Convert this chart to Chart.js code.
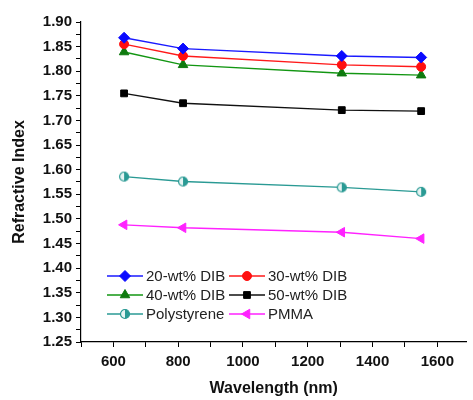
<!DOCTYPE html>
<html><head><meta charset="utf-8">
<script src="https://cdn.jsdelivr.net/npm/chart.js@4/dist/chart.umd.min.js"></script>
<style>html,body{margin:0;padding:0;background:#fff}#wrap{width:473px;height:400px;position:relative}</style>
</head><body><div id="wrap"><canvas id="c"></canvas></div>
<script>
const wavelengths = [633, 815, 1305, 1550];
const dib20 = [1.868, 1.846, 1.831, 1.828];
const dib30 = [1.855, 1.831, 1.813, 1.809];
const dib40 = [1.839, 1.813, 1.796, 1.792];
const dib50 = [1.755, 1.735, 1.721, 1.719];
const polystyrene = [1.586, 1.576, 1.564, 1.555];
const pmma = [1.488, 1.482, 1.473, 1.460];
const seriesNames = ['20-wt% DIB','30-wt% DIB','40-wt% DIB','50-wt% DIB','Polystyrene','PMMA'];
const xTickLabels = [600, 800, 1000, 1200, 1400, 1600];
const yTickLabels = [1.25, 1.30, 1.35, 1.40, 1.45, 1.50, 1.55, 1.60, 1.65, 1.70, 1.75, 1.80, 1.85, 1.90];

function halfCircle(r, color){
  const c = document.createElement('canvas');
  const s = Math.ceil(r*2+3); c.width = s; c.height = s;
  const g = c.getContext('2d'); const cx = s/2, cy = s/2;
  g.beginPath(); g.arc(cx,cy,r,0,Math.PI*2); g.fillStyle='#e6f4f3'; g.fill();
  g.beginPath(); g.arc(cx,cy,r,-Math.PI/2,Math.PI/2); g.closePath(); g.fillStyle=color; g.fill();
  g.beginPath(); g.arc(cx,cy,r,0,Math.PI*2); g.strokeStyle=color; g.lineWidth=1.2; g.stroke();
  return c;
}
const teal = '#2a9a94';
const psMarker = halfCircle(4.5, teal);

function mk(data){ return wavelengths.map((x,i)=>({x:x,y:data[i]})); }
const datasets = [
  {label:seriesNames[0], data:mk(dib20), borderColor:'#1a1aff', backgroundColor:'#0a0aff', pointStyle:'rectRot', pointRadius:5.5},
  {label:seriesNames[1], data:mk(dib30), borderColor:'#ff1a1a', backgroundColor:'#ff1010', pointStyle:'circle', pointRadius:4.5},
  {label:seriesNames[2], data:mk(dib40), borderColor:'#129612', backgroundColor:'#0e7a0e', pointStyle:'triangle', pointRadius:5.5},
  {label:seriesNames[3], data:mk(dib50), borderColor:'#111111', backgroundColor:'#000000', pointStyle:'rect', pointRadius:4.8},
  {label:seriesNames[4], data:mk(polystyrene), borderColor:teal, backgroundColor:teal, pointStyle:psMarker, pointRadius:4.5},
  {label:seriesNames[5], data:mk(pmma), borderColor:'#ff22ff', backgroundColor:'#ff22ff', pointStyle:'triangle', pointRotation:-90, pointRadius:5.5}
].map(d=>Object.assign({borderWidth:1.4, pointBorderWidth:1, pointBorderColor:d.backgroundColor, showLine:true, tension:0}, d));

const legendPlugin = {
  id:'customLegend',
  afterDraw(chart){
    const ctx = chart.ctx;
    const items = [
      {i:0,x:107,y:276},{i:1,x:229,y:276},
      {i:2,x:107,y:295},{i:3,x:229,y:295},
      {i:4,x:107,y:314},{i:5,x:229,y:314}
    ];
    ctx.save();
    ctx.font = '15px "Liberation Sans", Arial, sans-serif';
    ctx.textBaseline = 'middle';
    items.forEach(it=>{
      const ds = chart.data.datasets[it.i];
      ctx.strokeStyle = ds.borderColor; ctx.lineWidth = 1.4;
      ctx.beginPath(); ctx.moveTo(it.x, it.y); ctx.lineTo(it.x+36, it.y); ctx.stroke();
      ctx.fillStyle = ds.backgroundColor; ctx.strokeStyle = ds.backgroundColor; ctx.lineWidth=1;
      Chart.helpers.drawPoint(ctx, {pointStyle: ds.pointStyle, rotation: ds.pointRotation||0, radius: ds.pointRadius, borderWidth:1}, it.x+18, it.y);
      ctx.fillStyle = '#222';
      ctx.fillText(ds.label, it.x+39, it.y+1);
    });
    ctx.restore();
  }
};

function withMinor(majors){
  const out = [];
  majors.forEach((v,i)=>{
    out.push({value:v, major:true});
    if (i < majors.length-1) out.push({value:(v+majors[i+1])/2, major:false});
  });
  return out;
}
const xTicks = [{value:500,major:false}].concat(withMinor(xTickLabels)).concat([{value:1700,major:false}]);
const yTicks = withMinor(yTickLabels);
const isMajorX = v => xTickLabels.some(m=>Math.abs(m-v)<1e-6);
const isMajorY = v => yTickLabels.some(m=>Math.abs(m-v)<1e-6);

const FONT = '"Liberation Sans", Arial, sans-serif';
new Chart(document.getElementById('c'), {
  type:'scatter',
  data:{datasets},
  plugins:[legendPlugin],
  options:{
    responsive:true, maintainAspectRatio:false, animation:false,
    layout:{padding:{top:22,right:0,left:0,bottom:0}},
    plugins:{legend:{display:false}, tooltip:{enabled:false}},
    scales:{
      x:{type:'linear', min:500, max:1690,
        afterBuildTicks(s){ s.ticks = xTicks.filter(t=>t.value>=s.min && t.value<=s.max).map(t=>({value:t.value})); },
        afterFit(s){ s.height = 58; },
        border:{display:true,color:'#000',width:1.2},
        grid:{drawOnChartArea:false, drawTicks:true, tickLength:5, color:'#000'},
        ticks:{autoSkip:false, maxRotation:0, minRotation:0, padding:6, color:'#111',
          font:{family:FONT, size:15, weight:'bold'},
          callback:(v)=> isMajorX(v) ? String(Math.round(v)) : ''},
        title:{display:true, text:'Wavelength (nm)', color:'#111', padding:{top:0,bottom:2},
          font:{family:FONT, size:16, weight:'bold'}}
      },
      y:{type:'linear', min:1.25, max:1.90,
        afterBuildTicks(s){ s.ticks = yTicks.map(t=>({value:t.value})); },
        afterFit(s){ s.width = 81; },
        border:{display:true,color:'#000',width:1.2},
        grid:{drawOnChartArea:false, drawTicks:true, tickLength:5, color:'#000'},
        ticks:{autoSkip:false, padding:4, color:'#111',
          font:{family:FONT, size:15, weight:'bold'},
          callback:(v)=> isMajorY(v) ? v.toFixed(2) : ''},
        title:{display:true, text:'Refractive Index', color:'#111', padding:{top:10,bottom:0},
          font:{family:FONT, size:16, weight:'bold'}}
      }
    }
  }
});
</script></body></html>
